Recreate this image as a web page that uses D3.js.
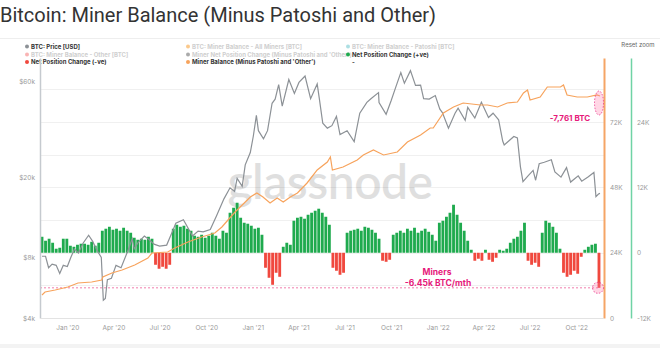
<!DOCTYPE html>
<html><head><meta charset="utf-8">
<script src="https://cdn.jsdelivr.net/npm/d3@7"></script>
<style>
html,body{margin:0;padding:0;background:#fff;}
svg{display:block;font-family:Inter,Roboto,"Open Sans",sans-serif;}
</style></head>
<body><svg id="c" width="660" height="348"></svg>
<script>
// ---------- DATA ----------
const priceDates = ["2019-11-12","2019-11-19","2019-11-25","2019-12-02","2019-12-10","2019-12-17","2019-12-24","2020-01-01","2020-01-08","2020-01-15","2020-01-23","2020-02-01","2020-02-12","2020-02-20","2020-02-28","2020-03-08","2020-03-12","2020-03-16","2020-03-20","2020-03-28","2020-04-06","2020-04-16","2020-04-30","2020-05-08","2020-05-12","2020-05-20","2020-06-01","2020-06-10","2020-06-20","2020-07-01","2020-07-15","2020-07-28","2020-08-02","2020-08-17","2020-09-04","2020-09-15","2020-09-25","2020-10-09","2020-10-21","2020-11-05","2020-11-17","2020-11-26","2020-12-01","2020-12-11","2020-12-17","2020-12-27","2021-01-02","2021-01-08","2021-01-12","2021-01-22","2021-01-30","2021-02-08","2021-02-14","2021-02-21","2021-02-28","2021-03-13","2021-03-24","2021-04-02","2021-04-14","2021-04-25","2021-05-08","2021-05-12","2021-05-19","2021-05-28","2021-06-06","2021-06-15","2021-06-22","2021-07-06","2021-07-20","2021-07-31","2021-08-14","2021-08-22","2021-09-06","2021-09-07","2021-09-21","2021-10-01","2021-10-09","2021-10-20","2021-10-27","2021-11-08","2021-11-18","2021-11-28","2021-12-04","2021-12-15","2021-12-27","2022-01-05","2022-01-10","2022-01-22","2022-02-04","2022-02-10","2022-02-24","2022-03-01","2022-03-15","2022-03-28","2022-04-11","2022-04-20","2022-05-01","2022-05-09","2022-05-12","2022-05-31","2022-06-07","2022-06-13","2022-06-18","2022-06-28","2022-07-08","2022-07-13","2022-07-20","2022-07-30","2022-08-13","2022-08-20","2022-09-01","2022-09-12","2022-09-20","2022-10-05","2022-10-12","2022-10-25","2022-11-05","2022-11-09","2022-11-14","2022-11-17"];
const priceValues = [8100,8100,7100,7400,7300,6650,7300,7200,8000,8800,8400,9400,10300,9600,8700,8000,4900,5000,6200,6300,7300,7100,8700,9900,8800,9500,10200,9800,9300,9100,9200,11000,11800,12300,10200,10800,10700,11000,12800,15600,17700,17000,19700,18000,23000,26500,32000,40500,34000,31000,34000,46500,48700,57500,45000,61000,52000,59000,63500,49000,58000,49500,37000,35000,36000,40000,32500,34000,30000,41500,47000,49000,52500,46900,41000,48000,55000,66000,58500,67500,57000,57200,49000,48800,50800,43500,41800,35000,41500,44000,38300,44400,39300,47100,39500,41500,38500,30200,28900,31800,31300,22500,19000,20300,21600,19300,23300,23700,24400,21200,20000,22300,18900,20300,19100,20100,21100,16000,16500,16600];

const balanceDates = ["2019-11-12","2019-11-18","2019-12-08","2020-01-02","2020-01-22","2020-02-18","2020-03-09","2020-03-11","2020-03-29","2020-04-18","2020-05-13","2020-06-08","2020-06-16","2020-07-17","2020-07-31","2020-08-26","2020-09-22","2020-10-18","2020-11-01","2020-11-13","2020-11-27","2020-12-07","2020-12-27","2021-01-09","2021-01-21","2021-02-04","2021-02-18","2021-03-02","2021-03-16","2021-03-30","2021-04-18","2021-05-08","2021-05-28","2021-06-03","2021-06-07","2021-06-28","2021-07-26","2021-08-07","2021-08-27","2021-09-04","2021-09-16","2021-10-13","2021-11-02","2021-11-28","2021-12-17","2021-12-23","2022-01-12","2022-02-01","2022-02-20","2022-03-26","2022-04-09","2022-04-29","2022-05-18","2022-06-07","2022-06-19","2022-06-27","2022-07-02","2022-07-22","2022-08-05","2022-08-31","2022-09-06","2022-09-13","2022-10-03","2022-10-23","2022-11-11","2022-11-17"];
const balanceValues = [8450,9550,10290,11390,12860,13230,13960,15060,16530,17640,19470,22040,23880,24250,25720,27920,29760,31230,33430,36010,38940,40780,44460,45930,44460,42250,44090,42620,44460,45930,49600,54380,57310,59150,54380,55480,58050,59890,61720,60990,59890,60990,64660,67230,69810,69810,75320,77520,78990,78260,78260,77520,78990,79360,82670,83770,80090,81200,84870,84870,85600,81930,81200,81200,81930,81560];

const netStart = "2019-11-12"; // weekly bars
const netValues = [2940,2210,2580,1840,740,920,2580,2580,1290,1100,1470,1660,1660,1470,2020,1290,1840,4050,4420,4780,4230,4420,4050,4600,4050,3680,2760,2390,2580,2390,2940,2580,-2210,-2940,-2580,-2940,-2210,4420,5150,4780,4970,4420,4050,3130,2940,3310,2760,3130,3680,3130,2580,4050,3680,7360,8280,9200,6440,5520,5340,4970,4420,4600,3310,-2760,-4600,-5890,-3680,-4420,1100,1840,1470,5890,6440,6620,6260,6990,7360,7730,8100,7360,6620,5150,-2760,-3310,-4050,-3680,3680,4050,4230,4420,4050,4780,4600,4230,3680,2580,-1470,-1660,-1290,3310,3680,4050,3680,4420,4050,4600,3680,4050,4420,3860,3310,2210,5520,5890,6620,7360,8830,6990,5520,4050,2210,550,-1470,-1100,-1470,550,-1290,-1660,-920,550,370,740,1840,2580,2940,4050,5520,-1470,-2210,-1840,-2580,3680,5890,5520,4780,3680,740,-3680,-4420,-4050,-3310,-3860,-740,550,1100,1470,1660,-6450];

const xTickDates = ["2020-01-01","2020-04-01","2020-07-01","2020-10-01","2021-01-01","2021-04-01","2021-07-01","2021-10-01","2022-01-01","2022-04-01","2022-07-01","2022-10-01"];
const priceTicks = [4000, 8000, 20000, 60000];
const balanceTicks = [0, 24000, 48000, 72000];
const netTicks = [-12000, 0, 12000, 24000];
const gridTicks = [12000, 24000, 36000, 48000, 60000, 72000, 84000];
const minerMonthly = -6450;
const lastDrop = "-7,761 BTC";

const legendItems = [
  {col:0,row:0,label:"BTC: Price [USD]",color:"#8c9196",on:true},
  {col:0,row:1,label:"BTC: Miner Balance - Other [BTC]",color:"#f46a6a",on:false},
  {col:0,row:2,label:"Net Position Change (-ve)",color:"#f0483e",on:true},
  {col:1,row:0,label:"BTC: Miner Balance - All Miners [BTC]",color:"#f7931a",on:false},
  {col:1,row:1,label:"Miner Net Position Change (Minus Patoshi and 'Other')",color:"#555",on:false},
  {col:1,row:2,label:"Miner Balance (Minus Patoshi and 'Other')",color:"#f7a35c",on:true},
  {col:2,row:0,label:"BTC: Miner Balance - Patoshi [BTC]",color:"#5bc0c8",on:false},
  {col:2,row:1,label:"Net Position Change (+ve)",color:"#1faa4e",on:true},
  {col:2,row:2,label:"-",color:null,on:true}
];

// ---------- CHART ----------
const parse = d3.timeParse("%Y-%m-%d");
const svg = d3.select("#c");
const pTop = 58, pBottom = 318, pLeft = 40, pRight = 604;

const x = d3.scaleTime().domain([parse("2019-11-12"), parse("2022-11-17")]).range([42, 600]);
const yPrice = d3.scaleLog().domain([4000, 78000]).range([pBottom, pTop]);
const yBal = d3.scaleLinear().domain([0, 95520]).range([pBottom, pTop]);
const yNet = d3.scaleLinear().domain([-12000, 35820]).range([pBottom, pTop]);

svg.append("rect").attr("width",660).attr("height",348).attr("fill","#fff");

// title
svg.append("text").attr("x",0).attr("y",22).attr("font-size",20).attr("fill","#333")
  .attr("font-family","Roboto, Inter, sans-serif")
  .text("Bitcoin: Miner Balance (Minus Patoshi and Other)");
svg.append("line").attr("x1",0).attr("x2",660).attr("y1",38.5).attr("y2",38.5).attr("stroke","#eee");
svg.append("rect").attr("x",0).attr("y",344).attr("width",660).attr("height",4).attr("fill","#f3f3f3");

// legend
const colX = [27, 188, 348];
const rowY = [46.5, 54.5, 62];
const lg = svg.append("g");
legendItems.forEach(it => {
  const gx = colX[it.col], gy = rowY[it.row];
  if (it.color) lg.append("circle").attr("cx",gx).attr("cy",gy).attr("r",2)
      .attr("fill",it.color).attr("opacity", it.on?1:0.5);
  lg.append("text").attr("x",gx+4).attr("y",gy+2).attr("font-size",6).attr("font-weight",700)
    .attr("fill", it.on ? "#333" : "#cfcfcf").text(it.label);
});
svg.append("text").attr("x",638).attr("y",47).attr("text-anchor","middle").attr("font-size",6)
  .attr("fill","#666").text("Reset zoom");

// gridlines
svg.append("g").selectAll("line").data(gridTicks).join("line")
  .attr("x1",pLeft).attr("x2",pRight).attr("y1",d=>Math.round(yBal(d))+0.5).attr("y2",d=>Math.round(yBal(d))+0.5)
  .attr("stroke","#f0f0f0");

// watermark
svg.append("text").attr("x",330).attr("y",199).attr("text-anchor","middle")
  .attr("font-size",48).attr("font-family","Lato, 'Open Sans', sans-serif").attr("font-weight",600)
  .attr("fill","#000").attr("opacity",0.12).attr("letter-spacing",-0.5).text("glassnode");

// bars
const netData = netValues.map((v,i)=>({d:d3.timeDay.offset(parse(netStart), 7*i), v}));
const bw = x(parse("2019-11-19")) - x(parse("2019-11-12"));
svg.append("g").selectAll("rect").data(netData).join("rect")
  .attr("x", d=>x(d.d)-bw/2+0.35)
  .attr("width", bw-0.7)
  .attr("y", d=>Math.min(yNet(d.v), yNet(0)))
  .attr("height", d=>Math.abs(yNet(d.v)-yNet(0)))
  .attr("fill", d=>d.v>=0 ? "#1faa4e" : "#f0483e");

// dashed miner line
svg.append("line").attr("x1",pLeft).attr("x2",600).attr("y1",yNet(minerMonthly)).attr("y2",yNet(minerMonthly))
  .attr("stroke","#e8337c").attr("stroke-width",0.8).attr("stroke-dasharray","2,2").attr("opacity",0.8);

// price line
const priceData = priceDates.map((d,i)=>({d:parse(d), v:priceValues[i]}));
svg.append("path").datum(priceData)
  .attr("d", d3.line().x(d=>x(d.d)).y(d=>yPrice(d.v)))
  .attr("fill","none").attr("stroke","#8c9196").attr("stroke-width",1.2);

// balance line
const balData = balanceDates.map((d,i)=>({d:parse(d), v:balanceValues[i]}));
svg.append("path").datum(balData)
  .attr("d", d3.line().x(d=>x(d.d)).y(d=>yBal(d.v)))
  .attr("fill","none").attr("stroke","#f7a35c").attr("stroke-width",1.2);

// axes
const axL = svg.append("g").attr("transform",`translate(${pLeft},0)`)
  .call(d3.axisLeft(yPrice).tickValues(priceTicks).tickFormat(d=>"$"+d/1000+"k").tickSize(0).tickPadding(5));
const axO = svg.append("g").attr("transform",`translate(${pRight},0)`)
  .call(d3.axisRight(yBal).tickValues(balanceTicks).tickFormat(d=>d===0?"0":d/1000+"K").tickSize(0).tickPadding(6));
const axG = svg.append("g").attr("transform",`translate(631,0)`)
  .call(d3.axisRight(yNet).tickValues(netTicks).tickFormat(d=>d===0?"0":d/1000+"K").tickSize(0).tickPadding(6));
const axB = svg.append("g").attr("transform",`translate(0,${pBottom})`)
  .call(d3.axisBottom(x).tickValues(xTickDates.map(parse)).tickFormat(d3.timeFormat("%b '%y")).tickSize(0).tickPadding(7));
[axL,axO,axG,axB].forEach(a=>{
  a.selectAll("text").attr("font-size",6.5).attr("fill","#999").attr("font-family","Inter, Roboto, sans-serif");
});
axL.select(".domain").attr("stroke","#c5cacf").attr("stroke-width",1.5);
axO.select(".domain").attr("stroke","#f5a566").attr("stroke-width",2);
axG.select(".domain").attr("stroke","#6fd3a5").attr("stroke-width",1.5);
axB.select(".domain").attr("stroke","#e3e3e3").attr("d",`M${pLeft},0.5H${pRight}`);

// annotations
const pink = "#e6197a";
svg.append("ellipse").attr("cx",599).attr("cy",103).attr("rx",4.5).attr("ry",12)
  .attr("fill","rgba(255,120,170,0.3)").attr("stroke",pink).attr("stroke-width",0.7).attr("stroke-dasharray","1.5,1.5");
svg.append("circle").attr("cx",598).attr("cy",yNet(minerMonthly)).attr("r",5.5)
  .attr("fill","rgba(255,120,170,0.3)").attr("stroke",pink).attr("stroke-width",0.7).attr("stroke-dasharray","1.5,1.5");
svg.append("text").attr("x",570).attr("y",121).attr("text-anchor","middle").attr("font-size",8).attr("font-weight",700)
  .attr("fill",pink).text(lastDrop);
svg.append("text").attr("x",437).attr("y",275).attr("text-anchor","middle").attr("font-size",8.5).attr("font-weight",700)
  .attr("fill",pink).text("Miners");
svg.append("text").attr("x",438).attr("y",285.5).attr("text-anchor","middle").attr("font-size",8.5).attr("font-weight",700)
  .attr("fill",pink).text("-6.45k BTC/mth");
</script></body></html>
